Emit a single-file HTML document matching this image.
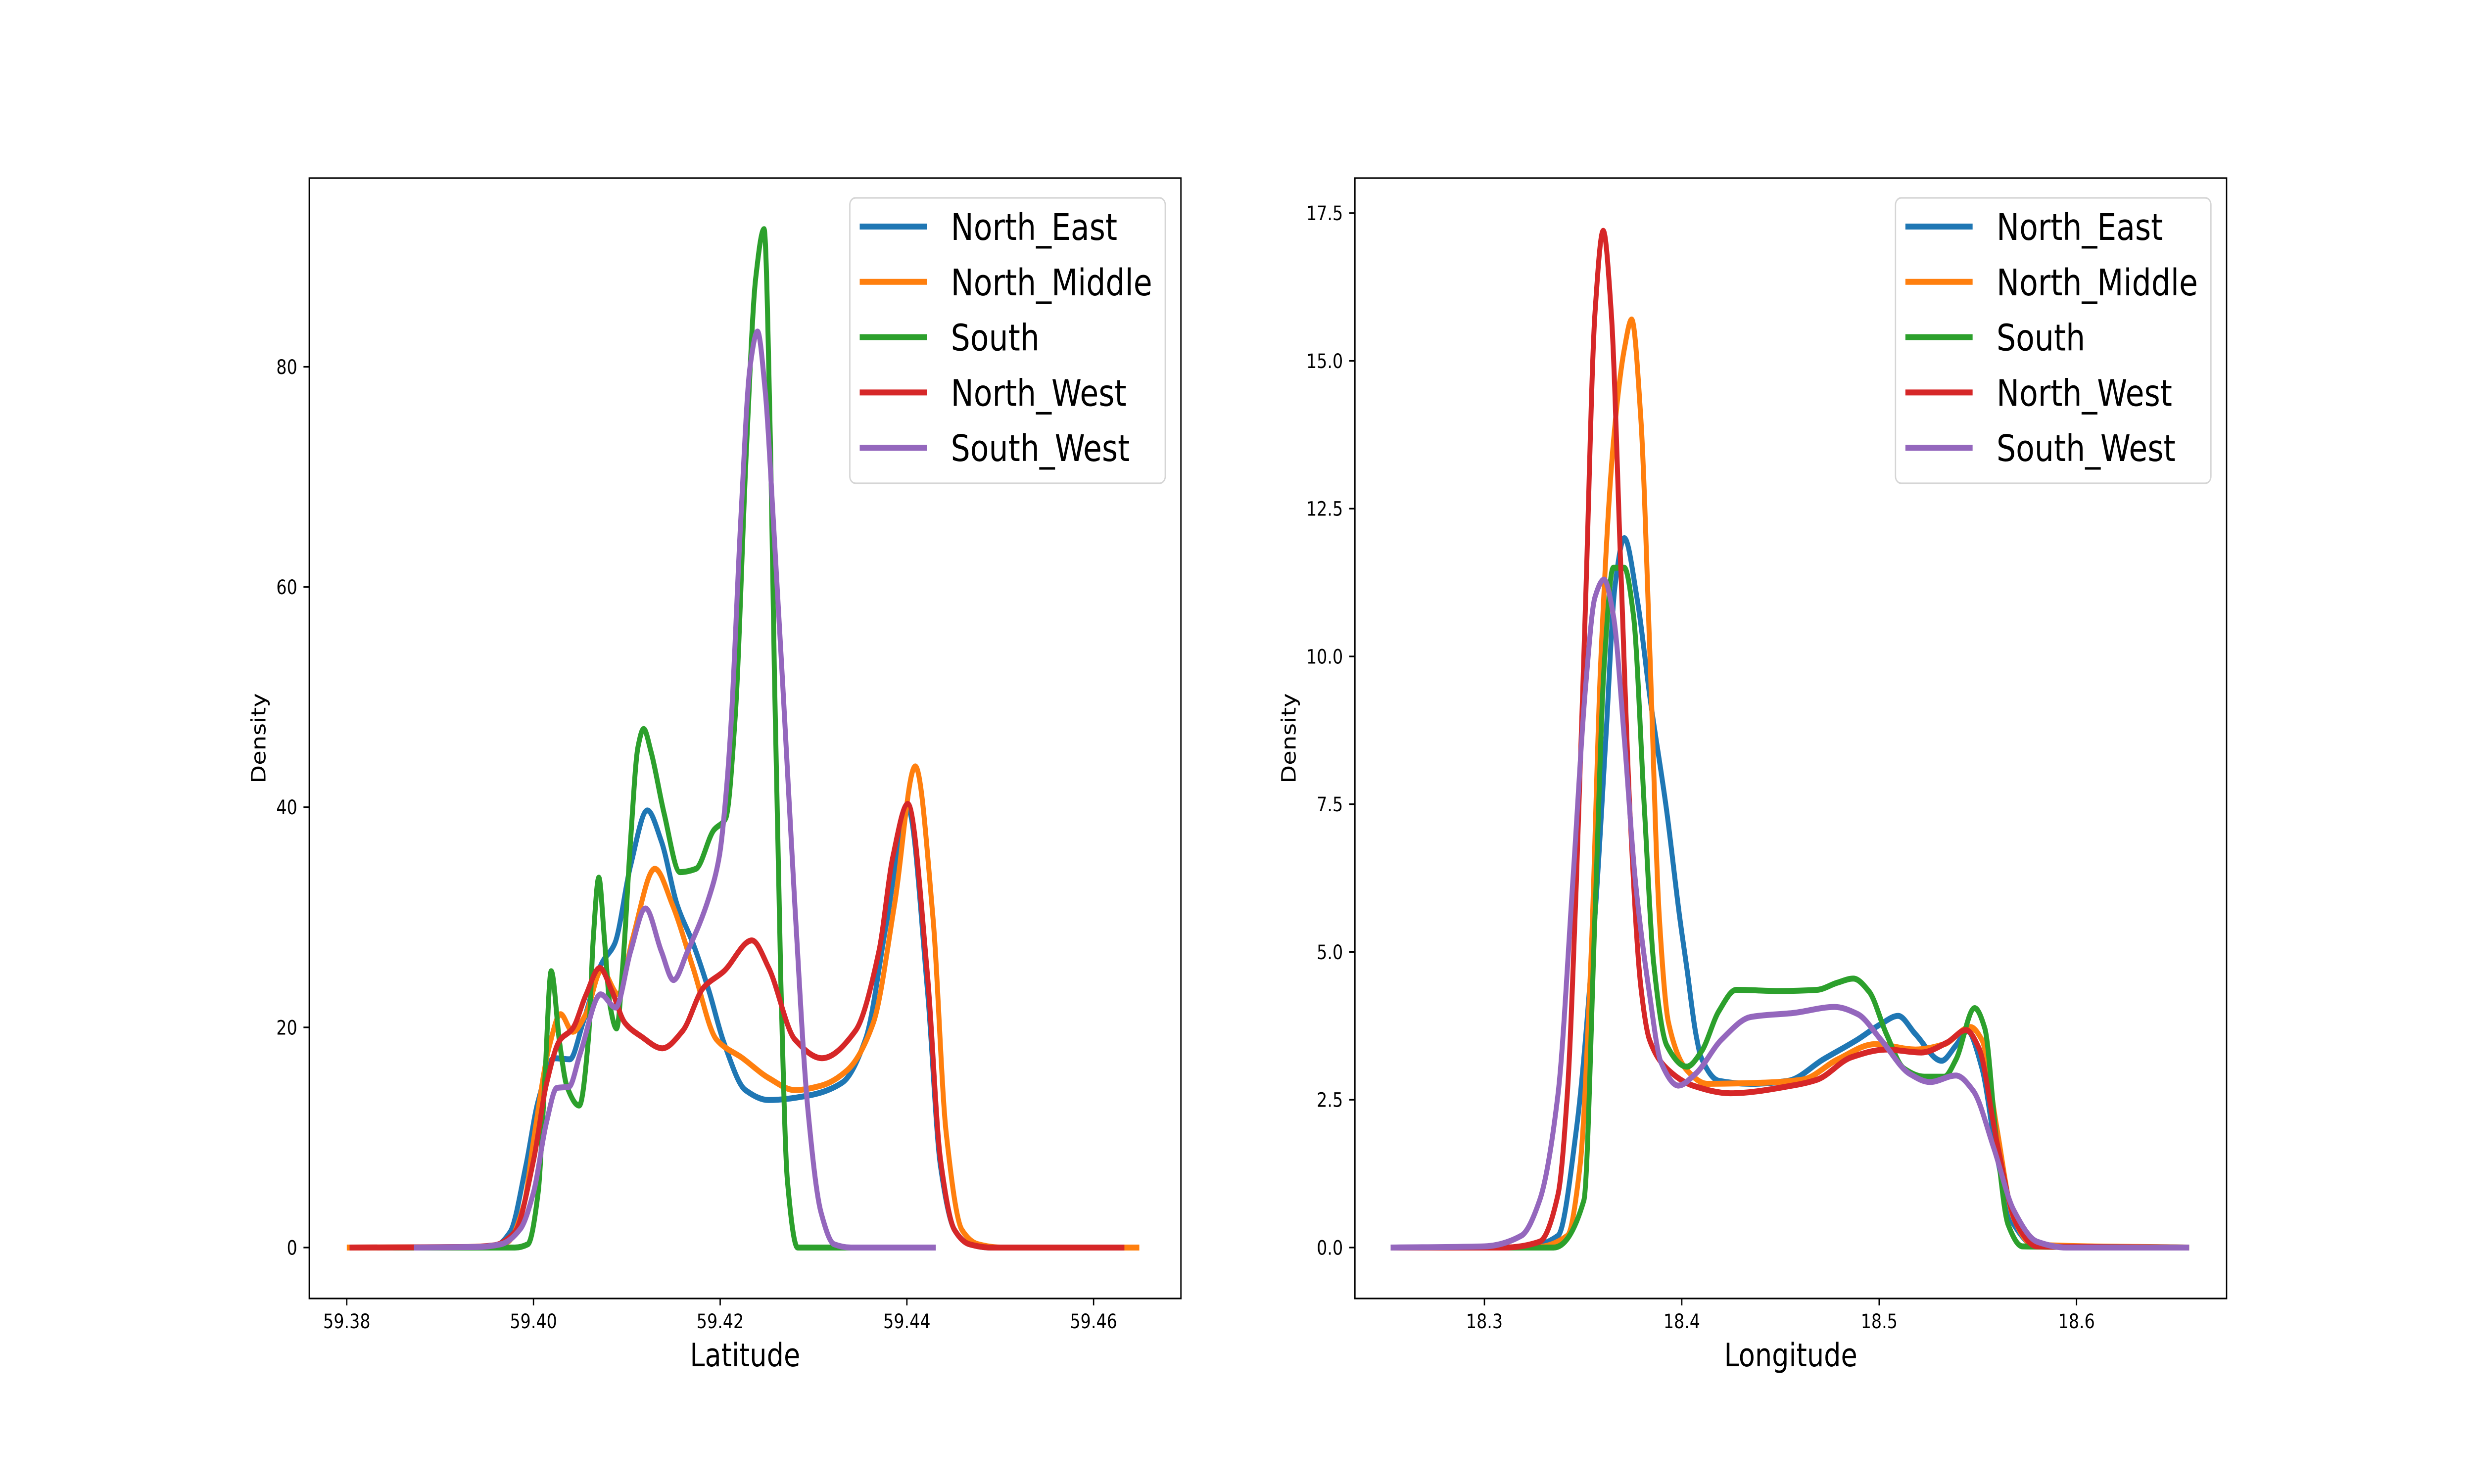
<!DOCTYPE html>
<html><head><meta charset="utf-8">
<style>
html,body{margin:0;padding:0;background:#fff;width:100vw;height:100vh;overflow:hidden;}
svg{display:block;width:100vw;height:100vh;font-family:"DejaVu Sans","Liberation Sans",sans-serif;}
</style></head>
<body>
<svg id="fig" xmlns="http://www.w3.org/2000/svg" viewBox="0 0 6000 3000" preserveAspectRatio="none">
<rect x="0" y="0" width="6000" height="3000" fill="#fff"/>
<g id="left"></g>
<g id="right"></g>
</svg>
<script>
// ---- Series names & colours ----
const seriesNames = ["North_East","North_Middle","South","North_West","South_West"];
const seriesColors = ["#1f77b4","#ff7f0e","#2ca02c","#d62728","#9467bd"];

// ---- Latitude KDE data ----
const latNE_x = [59.3812,59.3900,59.3940,59.3958,59.3975,59.3992,59.4005,59.4022,59.4039,59.4053,59.4073,59.4087,59.4104,59.4122,59.4137,59.4154,59.4171,59.4188,59.4204,59.4227,59.4252,59.4294,59.4331,59.4356,59.4378,59.4401,59.4422,59.4436,59.4451,59.4467,59.4490,59.4640];
const latNE_y = [0,0,0.05,0.1,1.4,7.5,13.3,17.2,17.1,20.4,25.8,27.6,34.7,39.7,36.9,31.1,27.6,23.3,18.6,14.3,13.4,13.8,15.0,19.0,29.4,39.9,23.4,7.4,1.6,0.3,0,0];
const latNM_x = [59.3800,59.3940,59.3972,59.3990,59.4000,59.4017,59.4029,59.4042,59.4056,59.4073,59.4091,59.4106,59.4130,59.4149,59.4171,59.4196,59.4224,59.4252,59.4280,59.4308,59.4336,59.4364,59.4387,59.4409,59.4428,59.4442,59.4459,59.4476,59.4500,59.4649];
const latNM_y = [0,0.05,0.5,4,9.7,18.3,21.2,19.6,21.2,25.2,23.0,28.0,34.4,31.1,25.4,18.9,17.2,15.4,14.3,14.7,16.1,20.4,31.3,43.7,29.9,10.5,1.6,0.3,0,0];
const latS_x = [59.3850,59.3980,59.3994,59.4005,59.4012,59.4019,59.4028,59.4036,59.4049,59.4059,59.4064,59.4070,59.4076,59.4082,59.4089,59.4096,59.4104,59.4112,59.4118,59.4126,59.4140,59.4157,59.4174,59.4193,59.4206,59.4216,59.4228,59.4238,59.4247,59.4254,59.4258,59.4265,59.4272,59.4283,59.4420];
const latS_y = [0,0,0.3,5,15,25.1,18.6,14.6,12.9,19.1,28,33.6,28,22,19.9,26,37,45.5,47.1,45,39.4,34.1,34.4,37.9,39.0,48.1,72.3,88,92.5,72.3,52.6,24.0,6.1,0,0];
const latNW_x = [59.3803,59.3930,59.3958,59.3980,59.4000,59.4014,59.4028,59.4042,59.4056,59.4071,59.4084,59.4098,59.4115,59.4138,59.4160,59.4182,59.4204,59.4234,59.4252,59.4280,59.4309,59.4345,59.4370,59.4385,59.4401,59.4422,59.4436,59.4451,59.4467,59.4490,59.4633];
const latNW_y = [0,0.05,0.2,1.4,7.9,14.9,18.8,19.9,22.9,25.4,23.3,20.4,19.2,18.1,19.7,23.6,25.1,27.9,25.4,18.9,17.2,19.7,26.9,35.5,40.3,24.8,8.0,1.6,0.3,0,0];
const latSW_x = [59.3872,59.3940,59.3965,59.3986,59.4000,59.4014,59.4025,59.4038,59.4050,59.4072,59.4088,59.4104,59.4120,59.4137,59.4150,59.4165,59.4188,59.4199,59.4207,59.4212,59.4222,59.4232,59.4240,59.4248,59.4257,59.4269,59.4280,59.4294,59.4308,59.4322,59.4340,59.4431];
const latSW_y = [0,0.05,0.3,1.7,5.0,11.4,14.5,14.6,17.6,23.0,21.8,26.9,30.8,26.9,24.3,26.9,31.8,35.5,41.9,48.1,66.0,80,83.2,78,66.0,48.1,31.1,12.5,3.2,0.3,0,0];

// ---- Longitude KDE data ----
const lonNE_x = [18.2525,18.32,18.3373,18.3466,18.356,18.3615,18.3662,18.3709,18.3774,18.3839,18.3923,18.3989,18.4026,18.4072,18.41,18.4188,18.4349,18.4539,18.4715,18.4891,18.5008,18.5096,18.5184,18.5316,18.5389,18.5447,18.5521,18.5594,18.5682,18.58,18.657];
const lonNE_y = [0,0,0.2,2.0,5.6,8.6,11.2,12.0,10.97,9.3,7.4,5.6,4.72,3.6,3.2,2.82,2.77,2.82,3.18,3.52,3.78,3.92,3.61,3.16,3.42,3.66,3.03,1.59,0.39,0.02,0];
const lonNM_x = [18.2525,18.325,18.342,18.3485,18.3541,18.3588,18.3653,18.3709,18.3746,18.3793,18.3839,18.3886,18.3933,18.4026,18.4129,18.4422,18.4612,18.4788,18.4979,18.5184,18.533,18.5462,18.5521,18.5594,18.5682,18.578,18.657];
const lonNM_y = [0,0,0.2,1.4,4.97,9.8,13.6,15.2,15.7,14.0,10.0,5.6,3.8,3.0,2.77,2.79,2.84,3.18,3.44,3.35,3.44,3.73,3.51,2.07,0.49,0.05,0];
const lonS_x = [18.2525,18.335,18.3504,18.356,18.3606,18.3653,18.3709,18.3755,18.3811,18.3858,18.3924,18.4026,18.41,18.4188,18.4276,18.4495,18.4686,18.4788,18.4869,18.4949,18.5037,18.5125,18.5228,18.5330,18.5389,18.5484,18.5535,18.5594,18.5653,18.5726,18.657];
const lonS_y = [0,0,0.8,5.6,9.8,11.5,11.5,10.7,7.4,4.8,3.42,3.06,3.32,4.0,4.36,4.34,4.36,4.48,4.55,4.33,3.61,3.03,2.89,2.89,3.18,4.05,3.71,1.83,0.39,0.02,0];
const lonNW_x = [18.2525,18.31,18.328,18.3373,18.342,18.3466,18.3513,18.356,18.3602,18.3643,18.369,18.3737,18.3793,18.3836,18.3924,18.4056,18.4246,18.456,18.4686,18.486,18.5037,18.5213,18.5345,18.544,18.5506,18.5594,18.5697,18.58,18.657];
const lonNW_y = [0,0,0.1,0.9,2.6,6.2,10.97,15.8,17.2,15.8,11.6,7.4,4.4,3.52,3.03,2.74,2.61,2.74,2.84,3.22,3.35,3.3,3.47,3.68,3.37,1.83,0.39,0.02,0];
const lonSW_x = [18.2525,18.30,18.3187,18.328,18.3373,18.3448,18.3513,18.356,18.3606,18.3653,18.3709,18.3765,18.3836,18.3895,18.3983,18.407,18.4202,18.4349,18.4569,18.4774,18.4891,18.5008,18.5154,18.5257,18.5389,18.5477,18.558,18.5682,18.58,18.595,18.657];
const lonSW_y = [0,0.02,0.2,0.8,2.6,6.2,9.5,11.0,11.3,10.7,8.6,6.2,4.3,3.13,2.74,2.94,3.52,3.9,3.97,4.07,3.95,3.52,2.94,2.8,2.91,2.65,1.69,0.63,0.1,0,0];

// ---- Tick values ----
const latXTicks = [59.38,59.40,59.42,59.44,59.46];
const latXTickLabels = ["59.38","59.40","59.42","59.44","59.46"];
const latYTicks = [0,20,40,60,80];
const latYTickLabels = ["0","20","40","60","80"];
const lonXTicks = [18.3,18.4,18.5,18.6];
const lonXTickLabels = ["18.3","18.4","18.5","18.6"];
const lonYTicks = [0,2.5,5,7.5,10,12.5,15,17.5];
const lonYTickLabels = ["0.0","2.5","5.0","7.5","10.0","12.5","15.0","17.5"];

const NS = "http://www.w3.org/2000/svg";
function mk(tag, attrs, parent){
  const e = document.createElementNS(NS, tag);
  for (const k in attrs) e.setAttribute(k, attrs[k]);
  parent.appendChild(e);
  return e;
}
// monotone cubic (Fritsch-Carlson) path through pixel points
function smoothPath(pts){
  const n = pts.length;
  const dx = [], m = [], t = new Array(n);
  for (let i = 0; i < n-1; i++){
    dx.push(pts[i+1][0]-pts[i][0]);
    m.push((pts[i+1][1]-pts[i][1]) / (pts[i+1][0]-pts[i][0] || 1e-6));
  }
  t[0] = m[0]; t[n-1] = m[n-2];
  for (let i = 1; i < n-1; i++){
    if (m[i-1]*m[i] <= 0) t[i] = 0;
    else {
      const w1 = 2*dx[i] + dx[i-1], w2 = dx[i] + 2*dx[i-1];
      t[i] = (w1 + w2) / (w1/m[i-1] + w2/m[i]);
    }
  }
  let d = "M" + pts[0][0].toFixed(1) + "," + pts[0][1].toFixed(1);
  for (let i = 0; i < n-1; i++){
    const h = dx[i];
    const c1x = pts[i][0] + h/3, c1y = pts[i][1] + t[i]*h/3;
    const c2x = pts[i+1][0] - h/3, c2y = pts[i+1][1] - t[i+1]*h/3;
    d += "C" + c1x.toFixed(1) + "," + c1y.toFixed(1) + " " + c2x.toFixed(1) + "," + c2y.toFixed(1) + " " + pts[i+1][0].toFixed(1) + "," + pts[i+1][1].toFixed(1);
  }
  return d;
}

function drawChart(g, cfg){
  const L = cfg.left, R = cfg.right, T = 360, B = 2625;
  const xs = cfg.xScale, ys = cfg.yScale;
  const clipId = cfg.id + "-clip";
  const defs = mk("defs", {}, g);
  const cp = mk("clipPath", {id: clipId}, defs);
  mk("rect", {x: L, y: T, width: R-L, height: B-T}, cp);
  const lines = mk("g", {"clip-path": "url(#" + clipId + ")"}, g);
  
  
  cfg.series.forEach((s, i) => {
    const pts = s.x.map((v, j) => [xs(v), ys(s.y[j])]);
    const p = mk("path", {d: smoothPath(pts), fill: "none", stroke: seriesColors[i], "stroke-width": 12, "stroke-linejoin": "round", "stroke-linecap": "butt"}, lines);
    
    
  });
  cfg.xTicks.forEach((v, i) => {
    const x = xs(v);
    const tk = mk("line", {x1: x, y1: B, x2: x, y2: B+14, stroke: "#000", "stroke-width": 3.2}, g);
    
    
    const tx = mk("text", {x: x, y: 2685, "font-size": 40, "text-anchor": "middle", fill: "#000"}, g);
    tx.textContent = cfg.xTickLabels[i];
    
    
  });
  cfg.yTicks.forEach((v, i) => {
    const y = ys(v);
    const tk = mk("line", {x1: L-14, y1: y, x2: L, y2: y, stroke: "#000", "stroke-width": 3.2}, g);
    
    
    const tx = mk("text", {x: L-29, y: y+14.5, "font-size": 40, "text-anchor": "end", fill: "#000"}, g);
    tx.textContent = cfg.yTickLabels[i];
    
    
  });
  const fr = mk("rect", {x: L, y: T, width: R-L, height: B-T, fill: "none", stroke: "#000", "stroke-width": 3.2}, g);
  
  
  const xl = mk("text", {x: (L+R)/2, y: 2762, "font-size": 65, "text-anchor": "middle", fill: "#000"}, g);
  xl.textContent = cfg.xLabel;
  
  
  const yx = cfg.yLabelX, yy = (T+B)/2;
  const yl = mk("text", {x: yx, y: yy, "font-size": 48, "text-anchor": "middle", fill: "#000", transform: "rotate(-90 " + yx + " " + yy + ")"}, g);
  yl.textContent = "Density";
  
  
  const lg = mk("g", {}, g);
  
  
  const bx = R - 803;
  mk("rect", {x: bx, y: 400, width: 765, height: 577, rx: 14, fill: "#fff", "fill-opacity": 0.8, stroke: "#d5d5d5", "stroke-width": 3.2}, lg);
  seriesNames.forEach((n, i) => {
    const cy = 458 + i*111.8;
    const en = mk("g", {}, lg);
    
    
    mk("line", {x1: bx+24, y1: cy, x2: bx+187, y2: cy, stroke: seriesColors[i], "stroke-width": 12}, en);
    const t = mk("text", {x: bx+245, y: cy+27, "font-size": 74, fill: "#000"}, en);
    t.textContent = n;
  });
}

drawChart(document.getElementById("left"), {
  id: "lat", left: 750, right: 2864,
  xScale: v => 841 + (v - 59.38) * 22640,
  yScale: d => 2522 - d * 22.256,
  series: [
    {x: latNE_x, y: latNE_y},{x: latNM_x, y: latNM_y},{x: latS_x, y: latS_y},
    {x: latNW_x, y: latNW_y},{x: latSW_x, y: latSW_y}],
  xTicks: latXTicks, xTickLabels: latXTickLabels,
  yTicks: latYTicks, yTickLabels: latYTickLabels,
  xLabel: "Latitude", yLabelX: 644
});
drawChart(document.getElementById("right"), {
  id: "lon", left: 3286, right: 5400,
  xScale: v => 3600 + (v - 18.3) * 4787,
  yScale: d => 2522 - d * 119.5,
  series: [
    {x: lonNE_x, y: lonNE_y},{x: lonNM_x, y: lonNM_y},{x: lonS_x, y: lonS_y},
    {x: lonNW_x, y: lonNW_y},{x: lonSW_x, y: lonSW_y}],
  xTicks: lonXTicks, xTickLabels: lonXTickLabels,
  yTicks: lonYTicks, yTickLabels: lonYTickLabels,
  xLabel: "Longitude", yLabelX: 3142
});
</script>
</body></html>
